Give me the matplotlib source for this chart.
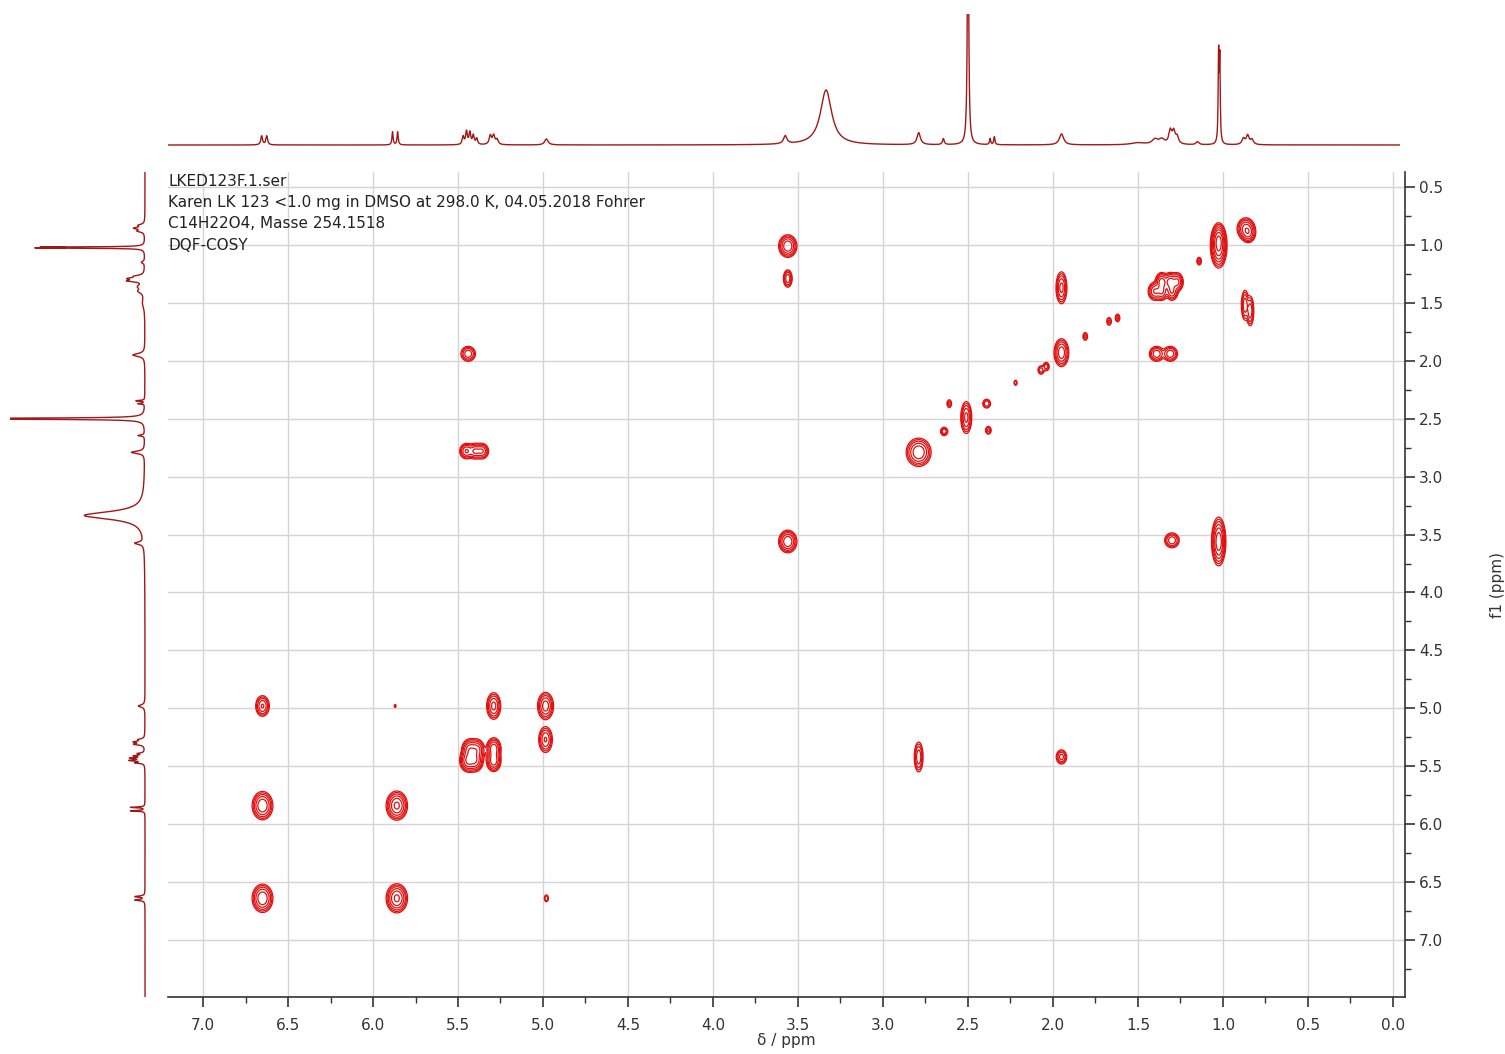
import numpy as np
import matplotlib
matplotlib.use("Agg")
import matplotlib.pyplot as plt

# cross peaks: f2 (x, ppm), f1 (y, ppm), relative intensity, widths (ppm)
cross_f2 = [3.56, 3.56, 1.025, 1.025, 0.865, 0.85, 1.95, 1.40, 1.36, 1.31, 1.27, 1.36,
            0.84, 0.87, 1.14, 1.62, 1.67, 1.81, 1.95, 2.04, 2.07, 1.39, 1.31, 5.44,
            2.22, 2.39, 2.38, 2.51, 2.61, 2.64, 2.79, 5.45, 5.40, 5.36, 3.56, 1.025,
            1.30, 6.65, 5.87, 5.29, 4.985, 4.985, 5.44, 5.40, 5.43, 5.39, 5.29, 5.29,
            2.79, 1.95, 6.65, 5.86, 6.65, 5.86, 4.98, 1.30]
cross_f1 = [1.01, 1.29, 1.01, 0.95, 0.86, 0.90, 1.37, 1.40, 1.32, 1.32, 1.32, 1.40,
            1.57, 1.52, 1.14, 1.63, 1.66, 1.79, 1.93, 2.05, 2.08, 1.94, 1.94, 1.94,
            2.19, 2.37, 2.60, 2.49, 2.37, 2.61, 2.79, 2.78, 2.78, 2.78, 3.56, 3.56,
            3.55, 4.98, 4.98, 4.98, 4.98, 5.27, 5.45, 5.45, 5.36, 5.36, 5.35, 5.45,
            5.42, 5.42, 5.84, 5.84, 6.64, 6.64, 6.64, 1.40]
cross_amp = [1.0, 0.5, 2.0, 1.0, 0.8, 0.6, 0.7, 0.6, 0.8, 0.8, 0.7, 0.6,
             0.5, 0.5, 0.2, 0.2, 0.2, 0.2, 0.9, 0.25, 0.25, 0.5, 0.5, 0.5,
             0.15, 0.3, 0.2, 0.7, 0.2, 0.25, 1.0, 0.6, 0.6, 0.6, 1.0, 1.6,
             0.5, 0.6, 0.12, 0.7, 0.8, 0.6, 1.2, 1.0, 0.9, 0.8, 0.9, 0.9,
             0.5, 0.4, 1.0, 1.2, 1.0, 1.2, 0.15, 0.6]
cross_wx = [0.022, 0.012, 0.018, 0.015, 0.022, 0.018, 0.014, 0.018, 0.016, 0.016, 0.016, 0.016,
            0.010, 0.010, 0.008, 0.008, 0.008, 0.008, 0.018, 0.010, 0.010, 0.02, 0.02, 0.02,
            0.006, 0.012, 0.010, 0.014, 0.008, 0.012, 0.03, 0.018, 0.018, 0.018, 0.022, 0.016,
            0.02, 0.018, 0.004, 0.018, 0.02, 0.018, 0.02, 0.02, 0.02, 0.02, 0.018, 0.018,
            0.012, 0.015, 0.025, 0.025, 0.025, 0.025, 0.008, 0.016]
cross_wy = [0.04, 0.035, 0.07, 0.05, 0.04, 0.035, 0.06, 0.035, 0.035, 0.035, 0.035, 0.035,
            0.06, 0.06, 0.02, 0.02, 0.02, 0.02, 0.05, 0.02, 0.02, 0.03, 0.03, 0.03,
            0.015, 0.02, 0.02, 0.06, 0.02, 0.02, 0.05, 0.03, 0.03, 0.03, 0.04, 0.08,
            0.03, 0.04, 0.01, 0.05, 0.05, 0.05, 0.04, 0.04, 0.04, 0.04, 0.04, 0.04,
            0.06, 0.03, 0.05, 0.05, 0.05, 0.05, 0.02, 0.035]

# 1D projection peaks: shift (ppm), height, half width (ppm)
proj_ppm = [6.655, 6.625, 5.885, 5.855, 5.47, 5.45, 5.43, 5.41, 5.39, 5.31, 5.29, 5.27,
            4.98, 3.575, 3.335, 2.79, 2.645, 2.50, 2.37, 2.345, 1.95, 1.5, 1.40, 1.36,
            1.31, 1.29, 1.27, 1.15, 1.026, 1.019, 0.88, 0.855, 0.83]
proj_height = [9, 9, 13, 13, 8, 13, 12, 9, 6, 9, 9, 5,
               6, 8, 55, 12, 6, 300, 6, 8, 11, 2, 5, 5,
               13, 12, 7, 3, 88, 82, 6, 9, 5]
proj_hw = [0.006, 0.006, 0.004, 0.004, 0.006, 0.006, 0.006, 0.006, 0.006, 0.008, 0.008, 0.008,
           0.012, 0.012, 0.04, 0.012, 0.006, 0.004, 0.004, 0.004, 0.015, 0.05, 0.02, 0.02,
           0.01, 0.01, 0.01, 0.01, 0.003, 0.003, 0.01, 0.01, 0.01]

header_lines = ["LKED123F.1.ser",
                "Karen LK 123 <1.0 mg in DMSO at 298.0 K, 04.05.2018 Fohrer",
                "C14H22O4, Masse 254.1518",
                "DQF-COSY"]

x_ticks = [7.0, 6.5, 6.0, 5.5, 5.0, 4.5, 4.0, 3.5, 3.0, 2.5, 2.0, 1.5, 1.0, 0.5, 0.0]
y_ticks = [0.5, 1.0, 1.5, 2.0, 2.5, 3.0, 3.5, 4.0, 4.5, 5.0, 5.5, 6.0, 6.5, 7.0]

xlim = (7.206, -0.071)
ylim = (7.492, 0.3705)

# build the contour surface from the peak table
xs = np.linspace(-0.1, 7.25, 1600)
ys = np.linspace(0.3, 7.55, 1100)
Z = np.zeros((len(ys), len(xs)))
for x0, y0, a, sx, sy in zip(cross_f2, cross_f1, cross_amp, cross_wx, cross_wy):
    gx = np.exp(-(xs - x0) ** 2 / (2 * sx ** 2))
    gy = np.exp(-(ys - y0) ** 2 / (2 * sy ** 2))
    Z += a * np.outer(gy, gx)

# projection trace from the peak list (lorentzian lines)
ppm = np.linspace(-0.1, 7.6, 7000)
trace = np.zeros_like(ppm)
for p0, h, w in zip(proj_ppm, proj_height, proj_hw):
    trace += h * w ** 2 / ((ppm - p0) ** 2 + w ** 2)

W, H = 1505, 1054
fig = plt.figure(figsize=(W / 100, H / 100), dpi=100)

def box(l, t, r, b):
    return [l / W, 1 - b / H, (r - l) / W, (b - t) / H]

ax = fig.add_axes(box(168, 172, 1405, 997))
ax.contour(xs, ys, Z, levels=[0.05, 0.09, 0.16, 0.3, 0.55, 1.0, 1.8],
           colors="#e01010", linewidths=0.9)
ax.set_xlim(*xlim)
ax.set_ylim(*ylim)
ax.set_xticks(x_ticks)
ax.set_xticks(np.arange(0.25, 7.2, 0.5), minor=True)
ax.set_yticks(y_ticks)
ax.set_yticks(np.arange(0.75, 7.4, 0.5), minor=True)
ax.set_xticklabels([f"{v:.1f}" for v in x_ticks])
ax.set_yticklabels([f"{v:.1f}" for v in y_ticks])
ax.yaxis.tick_right()
ax.yaxis.set_label_position("right")
for s in ["top", "left"]:
    ax.spines[s].set_visible(False)
for s in ["bottom", "right"]:
    ax.spines[s].set_color("#333333")
    ax.spines[s].set_linewidth(1.2)
ax.tick_params(which="major", length=7, width=1.2, color="#333333", labelsize=11, labelcolor="#333333")
ax.tick_params(which="minor", length=4, width=1, color="#333333")
ax.tick_params(axis="x", pad=8)
ax.tick_params(axis="y", pad=3)
ax.grid(True, which="major", color="#d4d4d4", linewidth=1)
ax.set_axisbelow(True)
ax.set_xlabel("δ / ppm", fontsize=11, color="#333333", labelpad=0)
ax.set_ylabel("f1 (ppm)", fontsize=11, color="#333333", labelpad=34)

for i, line in enumerate(header_lines):
    ax.text(0.0, 1 - (10 + i * 21) / 825, line, transform=ax.transAxes,
            ha="left", va="center", fontsize=11, color="#222222")

# top projection
axt = fig.add_axes(box(168, 14, 1400, 150))
axt.plot(ppm, trace, color="#a01818", linewidth=1)
axt.set_xlim(7.206, -0.041)
axt.set_ylim(-5, 131)
axt.axis("off")

# left projection
axl = fig.add_axes(box(10, 172, 150, 997))
axl.plot(trace, ppm, color="#a01818", linewidth=1)
axl.set_ylim(7.492, 0.3705)
axl.set_xlim(122.5, -4.5)
axl.axis("off")

fig.savefig("out.png", dpi=100)
